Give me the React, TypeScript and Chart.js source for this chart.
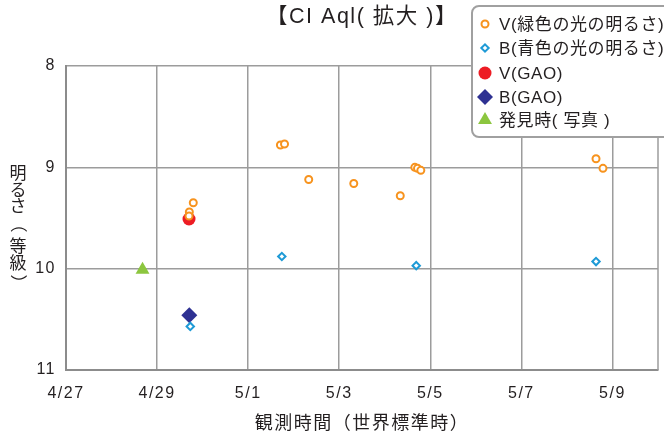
import React, { useEffect, useRef } from 'react';
import { Chart, registerables } from 'chart.js';
import { drawPoint } from 'chart.js/helpers';

Chart.register(...registerables);

const TITLE = '【CI Aql( 拡大 )】';
const X_TITLE = '観測時間（世界標準時）';
const Y_TITLE = '明るさ（等級）';

const START = '04-27 00:00';
const X_END = '05-10 00:00';
const xTickTimes = ['04-27 00:00', '04-29 00:00', '05-01 00:00', '05-03 00:00', '05-05 00:00', '05-07 00:00', '05-09 00:00'];
const xTickLabels = ['4/27', '4/29', '5/1', '5/3', '5/5', '5/7', '5/9'];
const Y_MIN = 8;
const Y_MAX = 11;

// V (green light brightness)
const vTimes = ['04-29 19:05', '04-29 17:00', '04-29 16:50', '05-01 17:00', '05-01 19:10', '05-02 07:55', '05-03 07:40', '05-04 08:10', '05-04 15:50', '05-04 17:15', '05-04 19:00', '05-08 15:20', '05-08 19:00'];
const vMags = [9.35, 9.44, 9.48, 8.78, 8.77, 9.12, 9.16, 9.28, 9.0, 9.01, 9.03, 8.915, 9.01];
// B (blue light brightness)
const bTimes = ['04-29 17:30', '05-01 17:45', '05-04 16:35', '05-08 15:20'];
const bMags = [10.57, 9.88, 9.97, 9.93];
// GAO
const vGaoTimes = ['04-29 16:50'];
const vGaoMags = [9.51];
const bGaoTimes = ['04-29 17:00'];
const bGaoMags = [10.46];
// Discovery (photo)
const discTimes = ['04-28 16:20'];
const discMags = [10.01];

const seriesLabels = ['V(緑色の光の明るさ)', 'B(青色の光の明るさ)', 'V(GAO)', 'B(GAO)', '発見時( 写真 )'];

const ORANGE = '#F7931E';
const BLUE = '#1E9AD6';
const RED = '#ED1C24';
const NAVY = '#2E3192';
const GREEN = '#8CC63F';
const TEXT = '#231F20';
const FONT = '"Liberation Sans", "Noto Sans CJK JP", sans-serif';
const CJK_FONT = '"Noto Sans CJK JP", "Liberation Sans", sans-serif';

function toDays(s: string): number {
  const [md, hm] = s.split(' ');
  const [m, d] = md.split('-').map(Number);
  const [h, mi] = hm.split(':').map(Number);
  const [m0, d0] = START.split(' ')[0].split('-').map(Number);
  return (Date.UTC(2013, m - 1, d, h, mi) - Date.UTC(2013, m0 - 1, d0)) / 86400000;
}

function pts(times: string[], mags: number[]) {
  return times.map((t, i) => ({ x: toDays(t), y: mags[i] }));
}

const spacingPlugin = {
  id: 'spacing',
  beforeDraw(chart: any) {
    chart.ctx.letterSpacing = '1.5px';
  },
};

const legendPlugin = {
  id: 'boxLegend',
  afterDraw(chart: any) {
    const ctx = chart.ctx;
    ctx.save();
    ctx.letterSpacing = '0.6px';
    const x = 472, y = 6, w = 220, h = 131, r = 7;
    ctx.beginPath();
    ctx.moveTo(x + r, y);
    ctx.lineTo(x + w, y);
    ctx.lineTo(x + w, y + h);
    ctx.lineTo(x + r, y + h);
    ctx.arcTo(x, y + h, x, y + h - r, r);
    ctx.lineTo(x, y + r);
    ctx.arcTo(x, y, x + r, y, r);
    ctx.closePath();
    ctx.fillStyle = '#ffffff';
    ctx.fill();
    ctx.lineWidth = 2;
    ctx.strokeStyle = '#A0A0A0';
    ctx.stroke();
    const rows = [24, 48, 73, 97, 120];
    chart.data.datasets.forEach((ds: any, i: number) => {
      ctx.fillStyle = ds.pointBackgroundColor;
      ctx.strokeStyle = ds.pointBorderColor;
      ctx.lineWidth = ds.pointBorderWidth;
      drawPoint(ctx, { pointStyle: ds.pointStyle, radius: ds.legendMarker, rotation: 0, borderWidth: ds.pointBorderWidth }, 485, rows[i]);
      ctx.fillStyle = TEXT;
      ctx.font = `17px ${FONT}`;
      ctx.textBaseline = 'middle';
      ctx.textAlign = 'left';
      ctx.fillText(ds.label, 499, rows[i] + 1);
    });
    ctx.restore();
  },
};

const frameAndYTitlePlugin = {
  id: 'frameYTitle',
  beforeDatasetsDraw(chart: any) {
    const { ctx, chartArea } = chart;
    ctx.save();
    ctx.strokeStyle = '#9C9C9C';
    ctx.lineWidth = 1.5;
    ctx.beginPath();
    ctx.moveTo(chartArea.right, chartArea.top);
    ctx.lineTo(chartArea.right, chartArea.bottom);
    ctx.stroke();
    ctx.restore();
  },
  afterDraw(chart: any) {
    const ctx = chart.ctx;
    ctx.save();
    ctx.letterSpacing = '0px';
    ctx.fillStyle = TEXT;
    ctx.font = `17px ${CJK_FONT}`;
    ctx.textAlign = 'center';
    ctx.textBaseline = 'middle';
    const chars = Array.from(Y_TITLE);
    const cx = 18;
    let cy = 173;
    chars.forEach((c, i) => {
      if (c === '（' || c === '）') {
        const shift = c === '（' ? 4 : -4;
        ctx.save();
        ctx.translate(cx, cy - shift);
        ctx.rotate(Math.PI / 2);
        ctx.fillText(c, 0, 0);
        ctx.restore();
      } else {
        ctx.fillText(c, cx, cy);
      }
      const next = chars[i + 1];
      if (c === '（' || c === '）') cy += 18;
      else cy += next === '（' ? 22 : 16.5;
    });
    ctx.restore();
  },
};

export default function App() {
  const ref = useRef<HTMLCanvasElement>(null);
  useEffect(() => {
    if (!ref.current) return;
    const chart = new Chart(ref.current, {
      type: 'scatter',
      data: {
        datasets: [
          { label: seriesLabels[0], data: pts(vTimes, vMags), pointStyle: 'circle', pointRadius: 3.5, pointBorderWidth: 2, pointBorderColor: ORANGE, pointBackgroundColor: '#ffffff', legendMarker: 3.5 } as any,
          { label: seriesLabels[1], data: pts(bTimes, bMags), pointStyle: 'rectRot', pointRadius: 3.7, pointBorderWidth: 2, pointBorderColor: BLUE, pointBackgroundColor: '#ffffff', legendMarker: 3.7 } as any,
          { label: seriesLabels[2], data: pts(vGaoTimes, vGaoMags), pointStyle: 'circle', pointRadius: 6.5, pointBorderWidth: 0, pointBorderColor: RED, pointBackgroundColor: RED, legendMarker: 6.5 } as any,
          { label: seriesLabels[3], data: pts(bGaoTimes, bGaoMags), pointStyle: 'rectRot', pointRadius: 8, pointBorderWidth: 0, pointBorderColor: NAVY, pointBackgroundColor: NAVY, legendMarker: 8 } as any,
          { label: seriesLabels[4], data: pts(discTimes, discMags), pointStyle: 'triangle', pointRadius: 8, pointBorderWidth: 0, pointBorderColor: GREEN, pointBackgroundColor: GREEN, legendMarker: 8 } as any,
        ],
      },
      options: {
        responsive: false,
        animation: false,
        layout: { autoPadding: false, padding: { left: 0, right: 6, top: 0, bottom: 0 } },
        plugins: {
          legend: { display: false },
          tooltip: { enabled: false },
          title: {
            display: true,
            text: TITLE,
            fullSize: false,
            color: TEXT,
            font: { family: FONT, size: 21.5, weight: 'normal' },
            padding: { top: 4, bottom: 36.2 },
          },
        },
        scales: {
          x: {
            type: 'linear',
            min: 0,
            max: toDays(X_END),
            afterFit: (s: any) => { s.height = 67; s.paddingLeft = 0; s.paddingRight = 0; },
            afterBuildTicks: (s: any) => { s.ticks = xTickTimes.map((t) => ({ value: toDays(t) })); },
            ticks: {
              color: TEXT,
              font: { family: FONT, size: 16 },
              padding: 14,
              maxRotation: 0,
              autoSkip: false,
              callback: (_v: any, i: number) => xTickLabels[i],
            },
            grid: { color: '#9C9C9C', lineWidth: 1.5, drawTicks: false },
            border: { color: '#8C8C8C', width: 2 },
            title: {
              display: true,
              text: X_TITLE,
              color: TEXT,
              font: { family: CJK_FONT, size: 18 },
              padding: { top: 0, bottom: 4 },
            },
          },
          y: {
            type: 'linear',
            reverse: true,
            min: Y_MIN,
            max: Y_MAX,
            afterFit: (s: any) => { s.width = 66; s.paddingTop = 0; s.paddingBottom = 0; },
            ticks: {
              stepSize: 1,
              color: TEXT,
              font: { family: FONT, size: 16 },
              padding: 10,
            },
            grid: { color: '#9C9C9C', lineWidth: 1.5, drawTicks: false },
            border: { color: '#8C8C8C', width: 2 },
          },
        },
      } as any,
      plugins: [spacingPlugin, frameAndYTitlePlugin, legendPlugin],
    });
    return () => chart.destroy();
  }, []);
  return (
    <div style={{ position: 'fixed', left: 0, top: 0, width: 664, height: 437, background: '#fff' }}>
      <canvas ref={ref} width={664} height={437} />
    </div>
  );
}
